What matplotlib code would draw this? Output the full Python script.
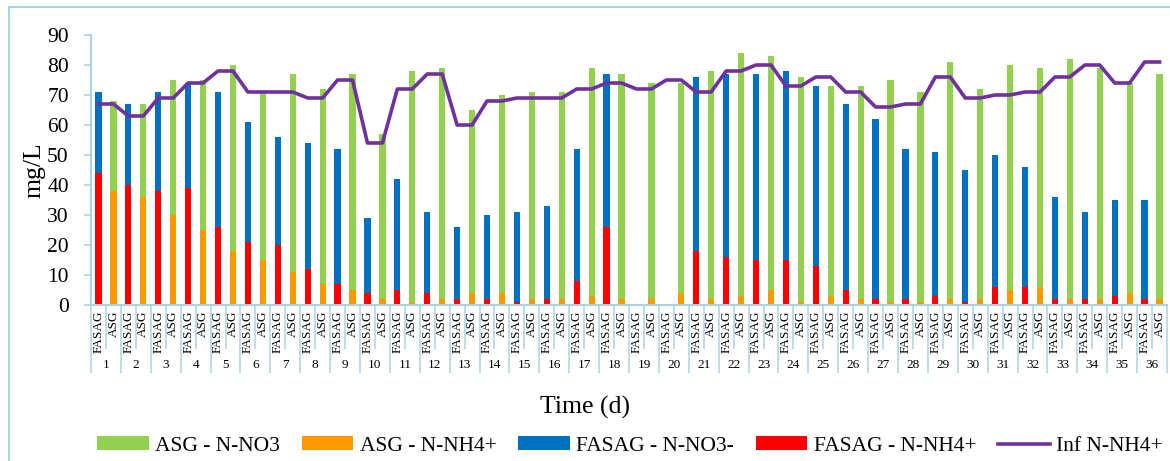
import numpy as np
import matplotlib
matplotlib.use("Agg")
import matplotlib.pyplot as plt
import matplotlib.transforms as mtransforms
from matplotlib.lines import Line2D

# data (mg/L), one value per day
days = [str(d) for d in range(1, 37)]
reactors = ["FASAG", "ASG"]

fasag_nh4 = [44, 40, 38, 39, 26, 21, 20, 12, 7, 4, 5, 4, 2, 2, 1, 2, 8, 26,
             0, 0, 18, 16, 15, 15, 13, 5, 2, 2, 3, 1, 6, 6, 2, 2, 3, 2]
fasag_no3 = [27, 27, 33, 35, 45, 40, 36, 42, 45, 25, 37, 27, 24, 28, 30, 31, 44, 51,
             0, 0, 58, 61, 62, 63, 60, 62, 60, 50, 48, 44, 44, 40, 34, 29, 32, 33]
asg_nh4 = [38, 36, 30, 25, 18, 15, 11, 7, 5, 2, 1, 2, 4, 4, 2, 2, 3, 2,
           2, 4, 2, 3, 5, 1, 3, 2, 1, 1, 2, 2, 5, 6, 2, 2, 4, 2]
asg_no3 = [30, 31, 45, 50, 62, 56, 66, 65, 72, 55, 77, 77, 61, 66, 69, 69, 76, 75,
           72, 70, 76, 81, 78, 75, 70, 71, 74, 70, 79, 70, 75, 73, 80, 77, 70, 75]
inf_nh4 = [67, 63, 69, 74, 78, 71, 71, 69, 75, 54, 72, 77, 60, 68, 69, 69, 72, 74,
           72, 75, 71, 78, 80, 73, 76, 71, 66, 67, 76, 69, 70, 71, 76, 80, 74, 81]

GREEN = "#92D050"
ORANGE = "#FF9900"
BLUE = "#0070C0"
RED = "#FF0000"
PURPLE = "#7030A0"
FRAME = "#A9D5E2"

plt.rcParams['font.family'] = ['Liberation Serif', 'DejaVu Serif']

fig = plt.figure(figsize=(11.7, 4.61), dpi=100)
ax = fig.add_axes([91 / 1170, 1 - 305 / 461, (1167 - 91) / 1170, 270 / 461])

n = len(days)
x_f = np.arange(n) * 2
x_a = x_f + 1
w = 0.42

ax.bar(x_f, fasag_nh4, width=w, color=RED, label="FASAG - N-NH4+", zorder=2)
ax.bar(x_f, fasag_no3, width=w, bottom=fasag_nh4, color=BLUE,
       label="FASAG - N-NO3-", zorder=2)
ax.bar(x_a, asg_nh4, width=w, color=ORANGE, label="ASG - N-NH4+", zorder=2)
ax.bar(x_a, asg_no3, width=w, bottom=asg_nh4, color=GREEN,
       label="ASG - N-NO3", zorder=2)

# influent value is shared by both reactors of a day
x_all = np.arange(2 * n)
ax.plot(x_all, np.repeat(inf_nh4, 2), color=PURPLE, lw=2.6,
        solid_joinstyle="round", label="Inf N-NH4+", zorder=3)

ax.set_xlim(-0.5, 2 * n - 0.5)
ax.set_ylim(0, 90)
ax.set_yticks(range(0, 91, 10))

for s in ["top", "right"]:
    ax.spines[s].set_visible(False)
for s in ["left", "bottom"]:
    ax.spines[s].set_color(FRAME)
    ax.spines[s].set_linewidth(1.5)

ax.tick_params(axis="y", colors=FRAME, labelcolor="black", labelsize=15.5,
               length=5, width=1.2, pad=11)

# two-level category axis: separators as ticks, labels as text
ax.set_xticks(np.arange(-0.5, 2 * n, 2))
ax.set_xticks(np.arange(0.5, 2 * n, 2), minor=True)
ax.set_xticklabels([])
ax.tick_params(axis="x", which="major", colors=FRAME, length=49, width=1.1)
ax.tick_params(axis="x", which="minor", colors=FRAME, length=32, width=1.1)

trans = mtransforms.blended_transform_factory(ax.transData, ax.transAxes)
for i in range(2 * n):
    ax.text(i, -0.02, reactors[i % 2], rotation=90, ha="center", va="top",
            fontsize=9.5, transform=trans)
for i, d in enumerate(days):
    ax.text(2 * i + 0.5, -0.222, d, ha="center", va="center", fontsize=9.5,
            transform=trans)

fig.text(35 / 1170, 1 - 170 / 461, "mg/L", rotation=90, ha="center",
         va="center", fontsize=18.5)
fig.text(0.5, 1 - 407 / 461, "Time (d)", ha="center", va="center", fontsize=18.5)

# outer frame (left and top only visible)
fig.add_artist(Line2D([9 / 1170, 9 / 1170], [0, 1 - 7 / 461],
                      transform=fig.transFigure, color=FRAME, lw=1.5))
fig.add_artist(Line2D([9 / 1170, 1], [1 - 7 / 461, 1 - 7 / 461],
                      transform=fig.transFigure, color=FRAME, lw=1.5))

handles, labels = ax.get_legend_handles_labels()
order = ["ASG - N-NO3", "ASG - N-NH4+", "FASAG - N-NO3-", "FASAG - N-NH4+", "Inf N-NH4+"]
hmap = dict(zip(labels, handles))
fig.legend([hmap[k] for k in order], order, ncol=5, loc="center",
           bbox_to_anchor=(630 / 1170, 1 - 446 / 461), frameon=False,
           fontsize=15.5, handlelength=2.4, handleheight=0.6,
           handletextpad=0.3, columnspacing=1.0, borderpad=0)

fig.savefig("out.png", dpi=100)
